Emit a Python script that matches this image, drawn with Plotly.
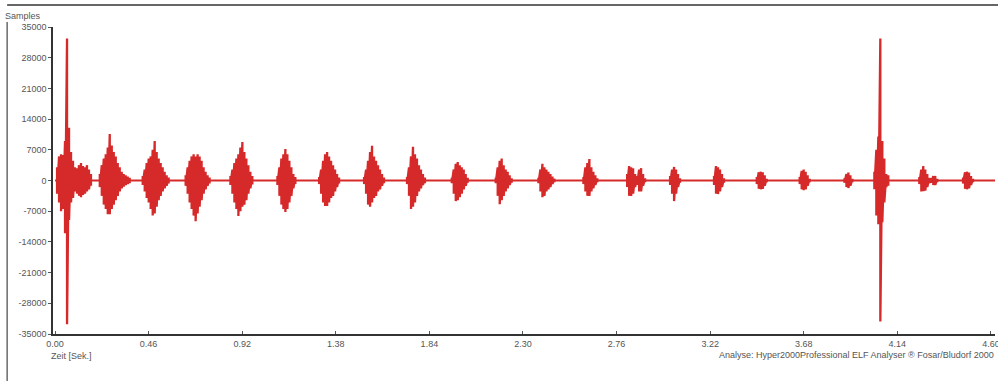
import plotly.graph_objects as go

# ---- data (min/max envelope of the ELF recording) ----
SAMPLE_STEP = 0.0098  # seconds between envelope samples

burst_start = [0.010, 0.220, 0.431, 0.642, 0.862, 1.093, 1.298, 1.519, 1.730, 1.950,
               2.166, 2.376, 2.597, 2.812, 3.023, 3.239, 3.449, 3.660, 3.880, 4.027,
               4.248, 4.463]

burst_max = [
    [3000, 5500, 6000, 5800, 9000, 32400, 12000, 6500, 4500, 3000, 2800, 3500, 4000, 3300, 3000, 3500, 2500, 1500],
    [1500, 3500, 5000, 6000, 7500, 10600, 8000, 6500, 5500, 4000, 3000, 2000, 1500, 1200, 900, 600],
    [1000, 2500, 4000, 5000, 5500, 7000, 9000, 6500, 5000, 4000, 3000, 2000, 1200, 700],
    [1200, 3000, 4500, 5500, 6000, 5500, 6000, 5500, 4500, 3000, 2000, 1200, 700],
    [1000, 2500, 4000, 5000, 6000, 7500, 8800, 6500, 5000, 3500, 2000, 1000],
    [1000, 3000, 5000, 6000, 7200, 6000, 4500, 3000, 1500, 800],
    [800, 2500, 4500, 6000, 6500, 5500, 4500, 3500, 2500, 1500, 700],
    [800, 2500, 4500, 6500, 7900, 5500, 4500, 3500, 2500, 1500, 700],
    [800, 3000, 5500, 7700, 6000, 5000, 3500, 2500, 1500, 700],
    [600, 2500, 3800, 4200, 3500, 3000, 2500, 1500, 600],
    [600, 3000, 4500, 5000, 3500, 2500, 2000, 1200, 500],
    [600, 2500, 3800, 3000, 2500, 2000, 1500, 900, 400],
    [800, 3000, 4000, 4900, 3000, 2000, 1200, 500],
    [1500, 3300, 3000, 2800, 1500, 1000, 2500, 2800, 1500, 500],
    [1000, 2500, 3100, 2500, 1500, 500],
    [1000, 3300, 3000, 2500, 1500, 500],
    [800, 1900, 2000, 1900, 1200, 400],
    [800, 2200, 2500, 2000, 1200, 400],
    [500, 1500, 1800, 1200, 400],
    [2000, 7000, 10000, 32400, 9000, 5000, 1500, 1200],
    [800, 2500, 3300, 2500, 1500, 600, 500, 1000, 1000, 400],
    [700, 1900, 2000, 1800, 1000, 400],
]

burst_min = [
    [-3000, -5000, -7000, -6500, -12000, -32800, -9000, -5000, -4000, -2500, -3000, -3500, -3800, -3300, -3000, -2500, -2000, -1200],
    [-1500, -3500, -5500, -6500, -7700, -7700, -6500, -5500, -4500, -3500, -2500, -1800, -1400, -1000, -800, -600],
    [-1000, -2500, -4000, -5000, -6500, -8000, -7500, -6000, -4500, -3500, -2500, -1800, -1200, -700],
    [-1200, -3000, -5000, -6500, -8000, -9300, -7500, -6000, -4500, -3000, -2000, -1200, -700],
    [-1000, -3000, -5000, -6500, -8100, -7000, -6000, -5500, -4500, -3000, -1800, -900],
    [-1000, -3500, -5500, -6500, -7200, -6500, -5000, -3500, -1800, -800],
    [-800, -3000, -5000, -5800, -5800, -5000, -4000, -3500, -2500, -1500, -700],
    [-800, -3000, -5500, -6000, -5000, -4000, -3500, -2500, -2000, -1200, -600],
    [-800, -3500, -6500, -6000, -5000, -3500, -2500, -1800, -1000, -600],
    [-600, -3000, -4700, -4500, -3800, -3000, -2000, -1200, -500],
    [-600, -3500, -5400, -4500, -3500, -2500, -1800, -1000, -500],
    [-600, -2500, -3800, -3500, -2500, -2000, -1500, -800, -400],
    [-800, -2500, -3500, -3500, -2500, -1800, -1000, -400],
    [-1500, -3500, -3500, -3000, -1500, -1000, -2500, -2500, -1200, -400],
    [-1000, -3000, -4700, -3000, -1500, -500],
    [-1000, -3000, -3100, -2500, -1500, -500],
    [-800, -1900, -2000, -1900, -1200, -400],
    [-800, -2000, -2200, -2000, -1200, -400],
    [-500, -1500, -1700, -1200, -400],
    [-2000, -8000, -10000, -32150, -9500, -5000, -1500, -1200],
    [-800, -2500, -2400, -2300, -1500, -600, -500, -1000, -1000, -400],
    [-700, -1900, -2000, -1800, -1000, -400],
]

baseline_t = [0.0, 4.62]
baseline_v = [0, 0]

x_tick_vals = [0.00, 0.46, 0.92, 1.38, 1.84, 2.30, 2.76, 3.22, 3.68, 4.14, 4.60]
x_tick_text = ["0.00", "0.46", "0.92", "1.38", "1.84", "2.30", "2.76", "3.22", "3.68", "4.14", "4.60"]
y_tick_vals = [35000, 28000, 21000, 14000, 7000, 0, -7000, -14000, -21000, -28000, -35000]

# ---- build min/max waveform strokes ----
wx, wy = [], []
for start, mx, mn in zip(burst_start, burst_max, burst_min):
    for j, (a, b) in enumerate(zip(mx, mn)):
        t = start + j * SAMPLE_STEP
        wx += [t, t]
        wy += [a, b]
    wx.append(None)
    wy.append(None)

RED = "rgb(214,42,42)"
fig = go.Figure()
fig.add_trace(go.Scatter(x=baseline_t, y=baseline_v, mode="lines",
                         line=dict(color=RED, width=2.2), hoverinfo="skip"))
fig.add_trace(go.Scatter(x=wx, y=wy, mode="lines", connectgaps=False,
                         line=dict(color=RED, width=2.3), hoverinfo="skip"))

FONT = "Liberation Sans, Arial, sans-serif"
fig.update_layout(
    width=1012, height=381,
    margin=dict(l=53, r=14, t=27, b=47),
    paper_bgcolor="white", plot_bgcolor="white",
    showlegend=False,
    font=dict(family=FONT, size=9, color="#555"),
    xaxis=dict(range=[-0.01, 4.62], showgrid=False, zeroline=False,
               tickmode="array", tickvals=x_tick_vals, ticktext=x_tick_text,
               showline=True, linecolor="#333", linewidth=1.5,
               ticks="inside", ticklen=3, tickcolor="#555",
               tickfont=dict(size=9, color="#555")),
    yaxis=dict(range=[-35000, 35000], showgrid=False, zeroline=False,
               tickmode="array", tickvals=y_tick_vals,
               ticktext=[str(v) for v in y_tick_vals],
               showline=True, linecolor="#333", linewidth=1.5,
               ticks="outside", ticklen=3, tickcolor="#555",
               tickfont=dict(size=9, color="#555")),
)

# outer frame lines of the original software window
fig.add_shape(type="line", xref="paper", yref="paper",
              x0=-0.0487, x1=1.02, y0=1.0717, y1=1.0717,
              line=dict(color="#333", width=1.5))
fig.add_shape(type="line", xref="paper", yref="paper",
              x0=-0.0487, x1=-0.0487, y0=1.0163, y1=-0.16,
              line=dict(color="#444", width=1.2))

fig.add_annotation(text="Samples", xref="paper", yref="paper",
                   x=-0.053, y=1.036, xanchor="left", yanchor="middle",
                   showarrow=False, font=dict(size=9, color="#555"))
fig.add_annotation(text="Zeit [Sek.]", xref="paper", yref="paper",
                   x=-0.004, y=-0.072, xanchor="left", yanchor="middle",
                   showarrow=False, font=dict(size=9, color="#555"))
fig.add_annotation(text="Analyse: Hyper2000Professional ELF Analyser \u00ae Fosar/Bludorf 2000",
                   xref="paper", yref="paper",
                   x=0.705, y=-0.068, xanchor="left", yanchor="middle",
                   showarrow=False, font=dict(size=9, color="#555"))

# remove the default page margin / scrollbars so the figure sits at the window corner
fig.write_html(
    "out.html",
    config={"displayModeBar": False},
    post_script="document.body.style.margin='0';document.body.style.overflow='hidden';",
)
